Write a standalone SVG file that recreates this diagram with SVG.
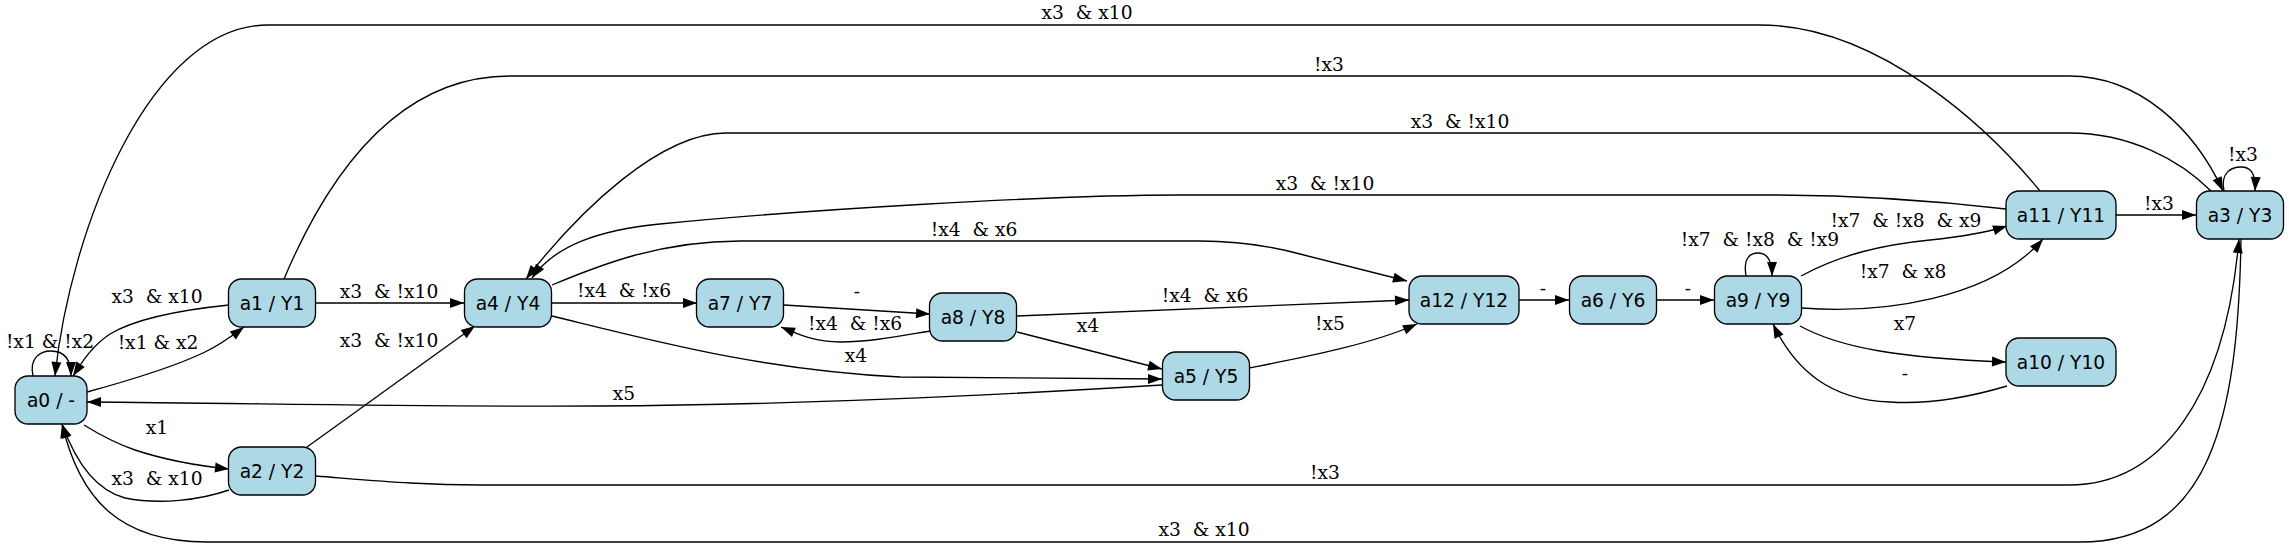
<svg xmlns="http://www.w3.org/2000/svg" width="2289" height="547" viewBox="0 0 2289 547">
<style>
.n rect{fill:#ADD8E6;stroke:#000;stroke-width:1.33}
.n text{font-family:"DejaVu Sans",sans-serif;font-size:18.67px;text-anchor:middle;fill:#000}
.e path{fill:none;stroke:#000;stroke-width:1.33;marker-end:url(#arr)}
.e text{font-family:"DejaVu Serif",serif;font-size:18.67px;text-anchor:middle;fill:#000;white-space:pre}
</style>
<defs>
<marker id="arr" markerUnits="userSpaceOnUse" markerWidth="16" markerHeight="12" refX="14" refY="5" orient="auto" overflow="visible">
<path d="M0,0 L14,5 L0,10 z" fill="#000" stroke="none"/>
</marker>
</defs>
<rect width="2289" height="547" fill="#fff"/>
<g id="edges" class="e">
<path d="M33,376 C29,357 41,351 51,351 C62,351 71,357 71,376"/>
<text x="50" y="348">!x1 &amp; !x2</text>
<path d="M87,392 C120,383 170,369 205,352 C220,345 232,336 244,327"/>
<text x="158" y="349">!x1 &amp; x2</text>
<path d="M229,305 C190,309 140,316 110,334 C92,346 82,362 73,376"/>
<text x="157" y="303">x3  &amp; x10</text>
<path d="M84,425 C100,435 115,443 135,450 C165,460 200,466 229,469"/>
<text x="157" y="434">x1</text>
<path d="M229,490 C200,500 160,505 125,498 C95,490 75,460 62,424"/>
<text x="157" y="485">x3  &amp; x10</text>
<path d="M315,303 L464,303"/>
<text x="389" y="298">x3  &amp; !x10</text>
<path d="M307,447 L475,326"/>
<text x="389" y="347">x3  &amp; !x10</text>
<path d="M284,279 C330,170 400,76 510,76 L2069,76 C2140,76 2195,130 2223,191"/>
<text x="1329" y="71">!x3</text>
<path d="M2040,191 C1990,130 1880,25 1760,25 L268,25 C150,25 70,230 55,376"/>
<text x="1087" y="19">x3  &amp; x10</text>
<path d="M2211,191 C2180,160 2130,133 2069,133 L726,133 C660,133 580,210 526,279"/>
<text x="1460" y="128">x3  &amp; !x10</text>
<path d="M2006,209 C1920,199 1850,195 1770,195 L1180,195 C1050,195 800,210 660,224 C600,230 555,245 532,278"/>
<text x="1325" y="190">x3  &amp; !x10</text>
<path d="M552,285 C600,265 660,241 740,241 L1200,241 C1240,241 1270,246 1300,254 L1407,281"/>
<text x="974" y="236">!x4  &amp; x6</text>
<path d="M551,303 L697,303"/>
<text x="624" y="297">!x4  &amp; !x6</text>
<path d="M552,316 C650,340 760,370 900,377 L1162,379"/>
<text x="856" y="362">x4</text>
<path d="M784,305 L930,314"/>
<text x="857" y="298">-</text>
<path d="M930,331 C900,336 870,342 840,342 C815,342 800,335 781,327"/>
<text x="855" y="330">!x4  &amp; !x6</text>
<path d="M1017,316 L1409,300"/>
<text x="1205" y="302">!x4  &amp; x6</text>
<path d="M1017,332 L1162,369"/>
<text x="1088" y="332">x4</text>
<path d="M1162,385 C1000,395 800,405 600,406 C400,407 250,403 87,402"/>
<text x="624" y="400">x5</text>
<path d="M1249,368 C1300,358 1370,345 1417,324"/>
<text x="1330" y="330">!x5</text>
<path d="M1519,300 L1569,300"/>
<text x="1543" y="295">-</text>
<path d="M1657,300 L1714,300"/>
<text x="1688" y="295">-</text>
<path d="M1746,276 C1743,258 1750,253 1758,253 C1766,253 1772,258 1772,276"/>
<text x="1760" y="246">!x7  &amp; !x8  &amp; !x9</text>
<path d="M1801,276 C1840,255 1880,245 1930,240 C1960,237 1985,233 2007,226"/>
<text x="1906" y="227">!x7  &amp; !x8  &amp; x9</text>
<path d="M1802,308 C1880,314 1990,300 2043,239"/>
<text x="1903" y="278">!x7  &amp; x8</text>
<path d="M1800,326 C1840,348 1900,358 2006,362"/>
<text x="1905" y="330">x7</text>
<path d="M2007,386 C1960,400 1920,404 1890,402 C1830,400 1795,370 1773,324"/>
<text x="1905" y="380">-</text>
<path d="M2116,215 L2196,215"/>
<text x="2159" y="210">!x3</text>
<path d="M2224,191 C2220,172 2232,167 2241,167 C2250,167 2256,172 2255,191"/>
<text x="2243" y="161">!x3</text>
<path d="M316,476 C380,481 420,485 480,485 L2069,485 C2160,485 2225,400 2239,239"/>
<text x="1325" y="479">!x3</text>
<path d="M2241,239 C2238,420 2210,542 2080,542 L207,542 C120,542 80,500 62,424"/>
<text x="1204" y="536">x3  &amp; x10</text>
</g>
<g id="a0" class="n"><rect x="15" y="376" width="72" height="48" rx="13"/><text x="51" y="406.5">a0 / -</text></g>
<g id="a1" class="n"><rect x="228.5" y="279" width="87" height="48" rx="13"/><text x="272" y="309.5">a1 / Y1</text></g>
<g id="a2" class="n"><rect x="228.5" y="447" width="87" height="48" rx="13"/><text x="272" y="477.5">a2 / Y2</text></g>
<g id="a4" class="n"><rect x="464.5" y="279" width="87" height="48" rx="13"/><text x="508" y="309.5">a4 / Y4</text></g>
<g id="a7" class="n"><rect x="696.5" y="279" width="87" height="48" rx="13"/><text x="740" y="309.5">a7 / Y7</text></g>
<g id="a8" class="n"><rect x="929.5" y="293" width="87" height="48" rx="13"/><text x="973" y="323.5">a8 / Y8</text></g>
<g id="a5" class="n"><rect x="1162.5" y="352" width="87" height="48" rx="13"/><text x="1206" y="382.5">a5 / Y5</text></g>
<g id="a12" class="n"><rect x="1409" y="276" width="110" height="48" rx="13"/><text x="1464" y="306.5">a12 / Y12</text></g>
<g id="a6" class="n"><rect x="1569.5" y="276" width="87" height="48" rx="13"/><text x="1613" y="306.5">a6 / Y6</text></g>
<g id="a9" class="n"><rect x="1714.5" y="276" width="87" height="48" rx="13"/><text x="1758" y="306.5">a9 / Y9</text></g>
<g id="a11" class="n"><rect x="2006" y="191" width="110" height="48" rx="13"/><text x="2061" y="221.5">a11 / Y11</text></g>
<g id="a10" class="n"><rect x="2006" y="338" width="110" height="48" rx="13"/><text x="2061" y="368.5">a10 / Y10</text></g>
<g id="a3" class="n"><rect x="2196.5" y="191" width="87" height="48" rx="13"/><text x="2240" y="221.5">a3 / Y3</text></g>
</svg>
